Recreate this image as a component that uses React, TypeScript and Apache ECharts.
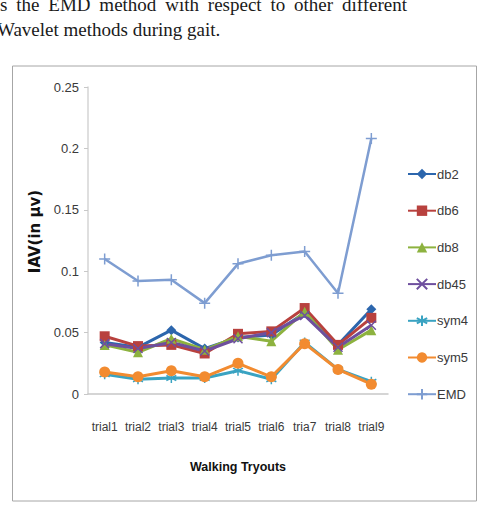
import React, { useEffect, useRef } from "react";
import * as echarts from "echarts";

// Walking trials and the IAV values per decomposition method
const trials = ["trial1", "trial2", "trial3", "trial4", "trial5", "trial6", "tria7", "trial8", "trial9"];
const db2 = [0.042, 0.038, 0.052, 0.037, 0.046, 0.048, 0.066, 0.040, 0.069];
const db6 = [0.047, 0.039, 0.040, 0.033, 0.049, 0.051, 0.070, 0.040, 0.062];
const db8 = [0.040, 0.034, 0.045, 0.036, 0.047, 0.043, 0.067, 0.036, 0.052];
const db45 = [0.041, 0.037, 0.042, 0.035, 0.045, 0.050, 0.064, 0.038, 0.056];
const sym4 = [0.016, 0.012, 0.013, 0.013, 0.019, 0.012, 0.042, 0.020, 0.010];
const sym5 = [0.018, 0.014, 0.019, 0.014, 0.025, 0.014, 0.041, 0.020, 0.008];
const emd = [0.110, 0.092, 0.093, 0.074, 0.106, 0.113, 0.116, 0.082, 0.208];

const yTicks = ["0", "0.05", "0.1", "0.15", "0.2", "0.25"];

// Caption lines above the figure
const captionLine1 = "s the EMD method with respect to other different";
const captionLine2 = "Wavelet methods during gait.";

const SANS = "'Liberation Sans', Arial, sans-serif";
const SERIF = "'Liberation Serif', 'DejaVu Serif', serif";
const CAPTION_FONT = `19px ${SERIF}`;

const X_MARK = "path://M0,0L10,10M10,0L0,10";
const STAR_MARK = "path://M5,0L5,10M0.7,2.5L9.3,7.5M0.7,7.5L9.3,2.5";
const PLUS_MARK = "path://M5,0L5,10M0,5L10,5";

function lineSeries(name: string, data: number[], color: string, symbol: string, size: number, stroked = false, width = 3) {
  return {
    name,
    type: "line",
    data,
    symbol,
    symbolSize: size,
    showSymbol: true,
    lineStyle: { color, width },
    itemStyle: stroked
      ? { color: "rgba(0,0,0,0)", borderColor: color, borderWidth: 1.5 }
      : { color, borderColor: color, borderWidth: 0 },
    emphasis: { disabled: true },
    z: 2,
  };
}

// Lay out a justified caption line: words spread between x0 and x1
function justifiedWords(text: string, x0: number, x1: number, baselineBottom: number) {
  const words = text.split(" ");
  const ctx = document.createElement("canvas").getContext("2d");
  let widths = words.map((w) => w.length * 9);
  if (ctx) {
    ctx.font = CAPTION_FONT;
    widths = words.map((w) => ctx.measureText(w).width);
  }
  const total = widths.reduce((a, b) => a + b, 0);
  const gap = words.length > 1 ? (x1 - x0 - total) / (words.length - 1) : 0;
  let x = x0;
  return words.map((w, i) => {
    const el = {
      type: "text",
      x,
      y: baselineBottom,
      silent: true,
      style: { text: w, font: CAPTION_FONT, fill: "#1a1a1a", verticalAlign: "bottom" },
    };
    x += widths[i] + gap;
    return el;
  });
}

export default function App() {
  const ref = useRef<HTMLDivElement>(null);

  useEffect(() => {
    if (!ref.current) return;
    const chart = echarts.init(ref.current, undefined, { renderer: "svg" });
    chart.setOption({
      animation: false,
      backgroundColor: "#ffffff",
      grid: { left: 88, right: 96, top: 87, bottom: 112 },
      legend: {
        orient: "vertical",
        left: 407,
        top: 167.5,
        padding: 0,
        itemWidth: 28,
        itemHeight: 13,
        itemGap: 23.7,
        textStyle: { fontFamily: SANS, fontSize: 13, color: "#3a3a3a", padding: [0, 0, 0, -4] },
        data: ["db2", "db6", "db8", "db45", "sym4", "sym5", "EMD"],
      },
      xAxis: {
        type: "category",
        data: trials,
        boundaryGap: true,
        axisLine: { lineStyle: { color: "#c8c8c8", width: 1.5 } },
        axisTick: { show: false },
        axisLabel: { fontFamily: SANS, fontSize: 12, color: "#3a3a3a", margin: 27, interval: 0 },
        name: "Walking Tryouts",
        nameLocation: "middle",
        nameGap: 66,
        nameTextStyle: { fontFamily: SANS, fontSize: 12.5, fontWeight: "bold", color: "#111" },
      },
      yAxis: {
        type: "value",
        min: 0,
        max: 0.25,
        interval: 0.05,
        axisLine: { show: true, lineStyle: { color: "#d4d4d4", width: 1.5 } },
        axisTick: { show: true, length: 4, lineStyle: { color: "#c8c8c8" } },
        splitLine: { show: false },
        axisLabel: {
          fontFamily: SANS,
          fontSize: 13,
          color: "#3a3a3a",
          margin: 9,
          formatter: (v: number) => yTicks[Math.round(v / 0.05)] ?? String(v),
        },
        name: "IAV(in µv)",
        nameLocation: "middle",
        nameGap: 43,
        nameTextStyle: {
          fontFamily: "'DejaVu Sans', sans-serif",
          fontSize: 15,
          fontWeight: "bold",
          color: "#111",
          padding: [0, 0, 0, 18],
        },
      },
      graphic: [
        {
          type: "rect",
          shape: { x: 12.5, y: 66, width: 464, height: 435 },
          style: { fill: "none", stroke: "#a6a6a6", lineWidth: 1 },
          silent: true,
          z: -10,
        },
        ...justifiedWords(captionLine1, 0, 407, 14),
        {
          type: "text",
          x: -3,
          y: 39,
          silent: true,
          style: { text: captionLine2, font: CAPTION_FONT, fill: "#1a1a1a", verticalAlign: "bottom" },
        },
      ],
      series: [
        lineSeries("db2", db2, "#2c66ad", "diamond", 10),
        lineSeries("db6", db6, "#b8413e", "rect", 10),
        lineSeries("db8", db8, "#8db23f", "triangle", 10),
        lineSeries("db45", db45, "#6e4f9e", X_MARK, 9, true),
        lineSeries("sym4", sym4, "#3aa3c2", STAR_MARK, 10, true),
        lineSeries("sym5", sym5, "#f28b30", "circle", 11),
        lineSeries("EMD", emd, "#7e9dd1", PLUS_MARK, 11, true, 2.5),
      ],
    });
    return () => chart.dispose();
  }, []);

  return (
    <div
      ref={ref}
      style={{ position: "absolute", left: 0, top: 0, width: 484, height: 506 }}
    />
  );
}
